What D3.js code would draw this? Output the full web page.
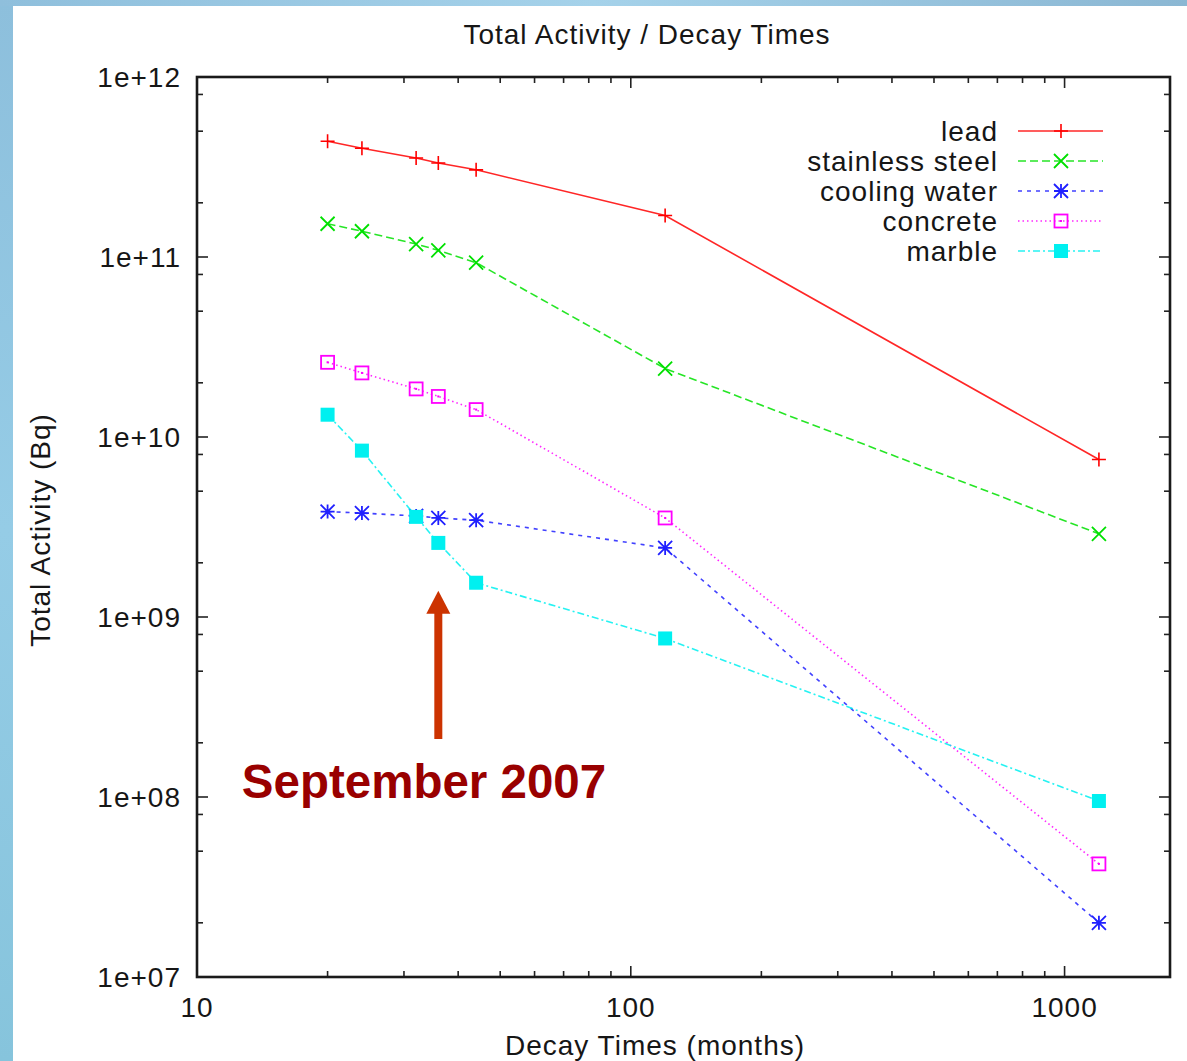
<!DOCTYPE html>
<html>
<head>
<meta charset="utf-8">
<script src="https://cdn.jsdelivr.net/npm/d3@7"></script>
<style>
  html, body { margin: 0; padding: 0; }
  body { width: 1187px; height: 1061px; overflow: hidden; }
  svg { display: block; }
</style>
</head>
<body>
<svg id="chart" width="1187" height="1061"></svg>
<script>
// Decay times (months) at which the activity was evaluated
const months = [20, 24, 32, 36, 44, 120, 1200];

// Total activity (Bq) per material
const lead           = [4.4e11, 4.02e11, 3.55e11, 3.33e11, 3.05e11, 1.7e11, 7.5e9];
const stainlessSteel = [1.53e11, 1.39e11, 1.18e11, 1.09e11, 9.3e10, 2.4e10, 2.9e9];
const coolingWater   = [3.85e9, 3.78e9, 3.64e9, 3.55e9, 3.45e9, 2.42e9, 2.0e7];
const concrete       = [2.6e10, 2.27e10, 1.85e10, 1.68e10, 1.42e10, 3.55e9, 4.25e7];
const marble         = [1.33e10, 8.4e9, 3.6e9, 2.58e9, 1.55e9, 7.6e8, 9.5e7];

const seriesNames = ["lead", "stainless steel", "cooling water", "concrete", "marble"];
const seriesValues = [lead, stainlessSteel, coolingWater, concrete, marble];

const xTickValues = [10, 100, 1000];
const yTickValues = [1e7, 1e8, 1e9, 1e10, 1e11, 1e12];
const yTickLabels = ["1e+07", "1e+08", "1e+09", "1e+10", "1e+11", "1e+12"];

const titleText = "Total Activity / Decay Times";
const xLabelText = "Decay Times (months)";
const yLabelText = "Total Activity (Bq)";
const noteText = "September 2007";
const noteMonth = 36;
const noteTip = 1.4e9;
const noteTail = 2.1e8;

// ---- styling per series (gnuplot-like line types) ----
const styles = [
  { color: "#ff0000", dash: null,          marker: "plus" },
  { color: "#00e000", dash: "8,4",         marker: "cross" },
  { color: "#2020ff", dash: "4,5",         marker: "star" },
  { color: "#ff00ff", dash: "1.5,3",       marker: "box" },
  { color: "#00f0f0", dash: "7,3,2,3",     marker: "fbox" }
];

const svg = d3.select("#chart");
const W = 1187, H = 1061;
const plot = { left: 197, right: 1170, top: 77, bottom: 977 };

// page background: blue band on the left and top, white sheet
const defs = svg.append("defs");
const grad = defs.append("linearGradient").attr("id", "bg")
  .attr("x1", "0").attr("y1", "0").attr("x2", "0").attr("y2", "1");
grad.append("stop").attr("offset", "0").attr("stop-color", "#8dbfdc");
grad.append("stop").attr("offset", "0.5").attr("stop-color", "#95cce6");
grad.append("stop").attr("offset", "1").attr("stop-color", "#86c4dc");
const gradTop = defs.append("linearGradient").attr("id", "bgTop")
  .attr("x1", "0").attr("y1", "0").attr("x2", "1").attr("y2", "0");
gradTop.append("stop").attr("offset", "0").attr("stop-color", "#8fbfdc");
gradTop.append("stop").attr("offset", "0.5").attr("stop-color", "#a5d2ea");
gradTop.append("stop").attr("offset", "1").attr("stop-color", "#8bb7d3");

svg.append("rect").attr("width", W).attr("height", H).attr("fill", "url(#bg)");
svg.append("rect").attr("width", W).attr("height", 6).attr("fill", "url(#bgTop)");
svg.append("rect").attr("x", 13).attr("y", 6).attr("width", W - 13).attr("height", H - 6).attr("fill", "#ffffff");

const x = d3.scaleLog().domain([10, 1750]).range([plot.left, plot.right]);
const y = d3.scaleLog().domain([1e7, 1e12]).range([plot.bottom, plot.top]);

const font = "'Liberation Sans', Arial, Helvetica, sans-serif";
const spacing = 1;

// ---- ticks (mirrored on all four sides) ----
const ticks = svg.append("g").attr("stroke", "#222").attr("stroke-width", 1.6);
const xMinor = [];
for (let d = 10; d < 10000; d *= 10) for (let k = 2; k <= 9; k++) if (k * d < 1750) xMinor.push(k * d);
const yMinor = [];
for (let d = 1e7; d < 1e12; d *= 10) for (let k of [2, 5, 8]) yMinor.push(k * d);
const majLen = 11, minLen = 6;
xTickValues.forEach(v => {
  ticks.append("line").attr("x1", x(v)).attr("x2", x(v)).attr("y1", plot.bottom).attr("y2", plot.bottom - majLen);
  ticks.append("line").attr("x1", x(v)).attr("x2", x(v)).attr("y1", plot.top).attr("y2", plot.top + majLen);
});
xMinor.forEach(v => {
  ticks.append("line").attr("x1", x(v)).attr("x2", x(v)).attr("y1", plot.bottom).attr("y2", plot.bottom - minLen);
  ticks.append("line").attr("x1", x(v)).attr("x2", x(v)).attr("y1", plot.top).attr("y2", plot.top + minLen);
});
yTickValues.forEach(v => {
  ticks.append("line").attr("y1", y(v)).attr("y2", y(v)).attr("x1", plot.left).attr("x2", plot.left + majLen);
  ticks.append("line").attr("y1", y(v)).attr("y2", y(v)).attr("x1", plot.right).attr("x2", plot.right - majLen);
});
yMinor.forEach(v => {
  ticks.append("line").attr("y1", y(v)).attr("y2", y(v)).attr("x1", plot.left).attr("x2", plot.left + minLen);
  ticks.append("line").attr("y1", y(v)).attr("y2", y(v)).attr("x1", plot.right).attr("x2", plot.right - minLen);
});

// tick labels
const tl = svg.append("g").attr("font-family", font).attr("font-size", 28)
  .attr("letter-spacing", spacing).attr("fill", "#161616");
xTickValues.forEach(v => {
  tl.append("text").attr("x", x(v)).attr("y", plot.bottom + 40).attr("text-anchor", "middle").text(String(v));
});
yTickValues.forEach((v, i) => {
  tl.append("text").attr("x", plot.left - 16).attr("y", y(v) + 10).attr("text-anchor", "end").text(yTickLabels[i]);
});

// titles
const labels = svg.append("g").attr("font-family", font).attr("font-size", 28)
  .attr("letter-spacing", spacing).attr("fill", "#161616");
labels.append("text").attr("x", 647).attr("y", 44).attr("text-anchor", "middle").text(titleText);
labels.append("text").attr("x", 655).attr("y", 1055).attr("text-anchor", "middle").text(xLabelText);
labels.append("text").attr("transform", "translate(50,530) rotate(-90)").attr("text-anchor", "middle").text(yLabelText);

// ---- markers ----
function drawMarker(g, kind, cx, cy, color) {
  const s = 7;
  if (kind === "plus") {
    g.append("path").attr("d", `M${cx - s},${cy}H${cx + s}M${cx},${cy - s}V${cy + s}`)
      .attr("stroke", color).attr("stroke-width", 1.6).attr("fill", "none");
  } else if (kind === "cross") {
    g.append("path").attr("d", `M${cx - s},${cy - s}L${cx + s},${cy + s}M${cx - s},${cy + s}L${cx + s},${cy - s}`)
      .attr("stroke", color).attr("stroke-width", 1.8).attr("fill", "none");
  } else if (kind === "star") {
    g.append("path").attr("d", `M${cx - s},${cy}H${cx + s}M${cx},${cy - s}V${cy + s}M${cx - s},${cy - s}L${cx + s},${cy + s}M${cx - s},${cy + s}L${cx + s},${cy - s}`)
      .attr("stroke", color).attr("stroke-width", 1.8).attr("fill", "none");
  } else if (kind === "box") {
    g.append("rect").attr("x", cx - 6.5).attr("y", cy - 6.5).attr("width", 13).attr("height", 13)
      .attr("stroke", color).attr("stroke-width", 1.8).attr("fill", "none");
    g.append("rect").attr("x", cx - 1).attr("y", cy - 1).attr("width", 2).attr("height", 2).attr("fill", color);
  } else if (kind === "fbox") {
    g.append("rect").attr("x", cx - 7).attr("y", cy - 7).attr("width", 14).attr("height", 14)
      .attr("fill", color);
  }
}

// ---- series ----
const line = d3.line().x(d => x(d[0])).y(d => y(d[1]));
const dataG = svg.append("g");
seriesValues.forEach((vals, i) => {
  const st = styles[i];
  const pts = months.map((m, j) => [m, vals[j]]);
  dataG.append("path").datum(pts).attr("d", line)
    .attr("fill", "none").attr("stroke", st.color).attr("stroke-width", 1.6)
    .attr("stroke-opacity", 0.85)
    .attr("stroke-dasharray", st.dash);
  const mg = dataG.append("g");
  pts.forEach(p => drawMarker(mg, st.marker, x(p[0]), y(p[1]), st.color));
});

// ---- legend ----
const legend = svg.append("g").attr("font-family", font).attr("font-size", 28)
  .attr("letter-spacing", spacing).attr("fill", "#161616");
seriesNames.forEach((name, i) => {
  const ly = 131 + i * 30;
  const st = styles[i];
  legend.append("text").attr("x", 998).attr("y", ly + 10).attr("text-anchor", "end").text(name);
  legend.append("line").attr("x1", 1018).attr("x2", 1103).attr("y1", ly).attr("y2", ly)
    .attr("stroke", st.color).attr("stroke-width", 1.6).attr("stroke-opacity", 0.85)
    .attr("stroke-dasharray", st.dash);
  drawMarker(legend.append("g"), st.marker, 1061, ly, st.color);
});

// ---- border ----
svg.append("rect").attr("x", plot.left).attr("y", plot.top)
  .attr("width", plot.right - plot.left).attr("height", plot.bottom - plot.top)
  .attr("fill", "none").attr("stroke", "#1a1a1a").attr("stroke-width", 2.6);

// ---- annotation arrow and note ----
const ax = x(noteMonth), tipY = y(noteTip), tailY = y(noteTail);
const headLen = 23, headHalf = 12, shaftHalf = 4;
svg.append("rect").attr("x", ax - shaftHalf).attr("y", tipY + headLen - 1)
  .attr("width", shaftHalf * 2).attr("height", tailY - tipY - headLen + 1).attr("fill", "#cc3300");
svg.append("path").attr("d", `M${ax},${tipY}L${ax - headHalf},${tipY + headLen}L${ax + headHalf},${tipY + headLen}Z`)
  .attr("fill", "#cc3300");
svg.append("text").attr("x", 424).attr("y", 798).attr("text-anchor", "middle")
  .attr("font-family", font).attr("font-weight", "bold").attr("font-size", 47.5)
  .attr("fill", "#990000").text(noteText);
</script>
</body>
</html>
